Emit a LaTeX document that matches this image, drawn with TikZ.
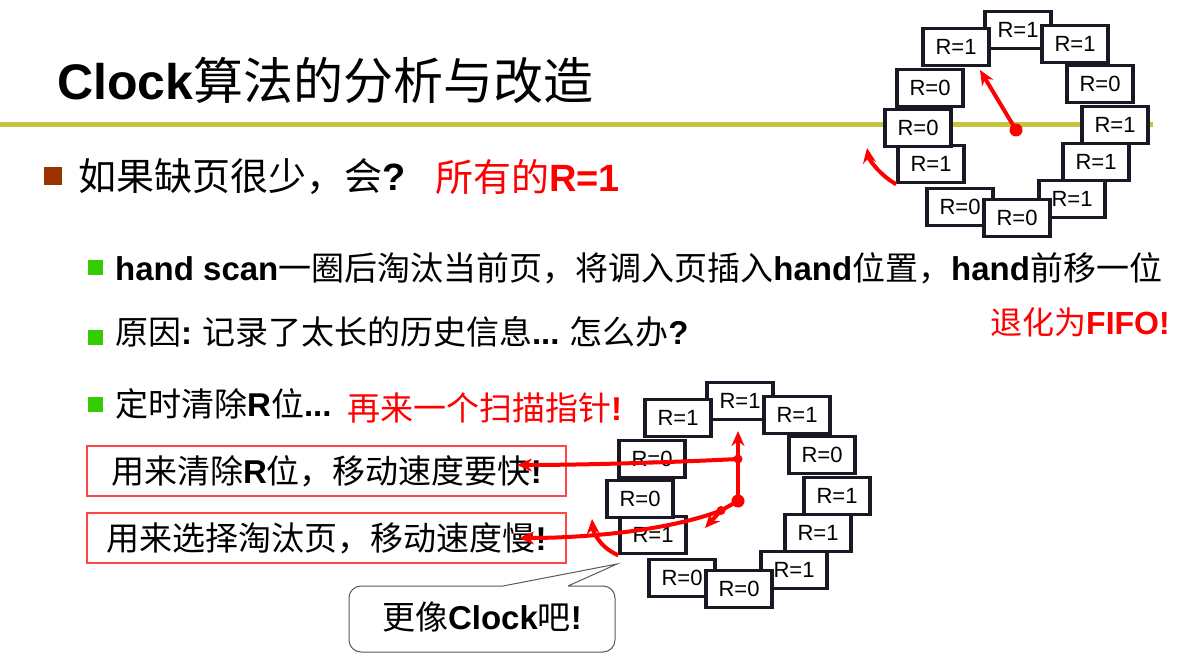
\documentclass[tikz,border=0pt]{standalone}
\usepackage{fontspec}
\setmainfont{Noto Sans CJK SC}
\newfontfamily\latinfont{Liberation Sans}
\usetikzlibrary{arrows.meta}
\definecolor{SlideRule}{HTML}{C4C43F}
\definecolor{BulletBrown}{HTML}{993300}
\definecolor{BulletGreen}{HTML}{33CC00}
\definecolor{HandRed}{HTML}{FF0000}
\definecolor{NoteRed}{HTML}{FF4545}
\definecolor{FaceInk}{HTML}{1A1824}
\definecolor{CalloutGrey}{HTML}{5A5A5A}
\newcommand\latb[1]{{\latinfont\bfseries #1}}
\newcommand\px[1]{\fontsize{#1}{#1}\selectfont}
% offsets of the twelve pages round the hub, and their R bits
\newcommand\clockfaces{2/-100/1, -60/-83/1, 59/-86/1, -86/-42/0, 84/-46/0, -85/34/1, -98/-2/0, 99/-5/1, 80/32/1, -56/77/0, 56/69/1, 1/88/0}
\tikzset{
  every node/.style={text=black},
  face/.style={draw=FaceInk, line width=3.5pt, fill=white, minimum width=66pt, minimum height=37pt, inner sep=0pt, font=\latinfont\px{22}},
  hand/.style={draw=HandRed, line width=4pt, -{Stealth[length=15pt,width=13pt]}},
  pivot/.style={fill=HandRed},
  bullet/.style={fill=BulletGreen, minimum size=15pt, inner sep=0pt},
  item/.style={anchor=west, inner sep=0pt, font=\px{33}},
  redbox/.style={draw=NoteRed, line width=1.2pt, minimum width=479pt, minimum height=50pt, inner sep=0pt, font=\px{33}},
  note/.style={draw=CalloutGrey, line width=1pt, fill=white},
}

\begin{document}
\begin{tikzpicture}[x=1pt,y=-1pt]
  \useasboundingbox (0,0) rectangle (1192,668);
  \fill[white] (0,0) rectangle (1192,668);
  % Title and rule
  \draw[SlideRule, line width=5pt] (0,124.5) -- (1153,124.5);
  \node[anchor=west, inner sep=0pt, font=\px{50}] (title) at (57,80) {\latb{Clock}算法的分析与改造};

  % First clock: one hand
  \begin{scope}[shift={(1016,130)}]
    \foreach \dx/\dy/\r [count=\i] in \clockfaces
      \node[face] (up\i) at (\dx,\dy) {R=\r};
    \coordinate (uphub) at (0,0);
    \coordinate (uptip) at (-36,-60);
    \coordinate (upturn) at (-149,18);
    \draw[hand] (uphub) -- (uptip);
    \fill[pivot] (uphub) circle (6.5pt);
    \draw[hand] (up6.south west) .. controls (-135,46) and (-147,30) .. (upturn);
  \end{scope}

  % Bullets
  \node[bullet, fill=BulletBrown, minimum size=18pt] (fewmark) at (52.5,176) {};
  \node[item, font=\px{38}] (fewline) at (78,177) {如果缺页很少，会\latb{?}};
  \node[item, font=\px{38}, text=HandRed] (allone) at (435,177) {所有的\latb{R=1}};
  \node[bullet] (scanmark) at (95,268) {};
  \node[item] (scanline) at (115,268) {\latb{hand scan}一圈后淘汰当前页，将调入页插入\latb{hand}位置，\latb{hand}前移一位};
  \node[item, font=\px{32}, text=HandRed] (fifo) at (990,322) {退化为\latb{FIFO!}};
  \node[bullet] (causemark) at (95,338) {};
  \node[item] (causeline) at (115,332) {原因\latb{:} 记录了太长的历史信息\latb{...} 怎么办\latb{?}};
  \node[bullet] (clearmark) at (95,404) {};
  \node[item] (clearline) at (115,404) {定时清除\latb{R}位\latb{...}};
  \node[item, text=HandRed] (twohand) at (347,408) {再来一个扫描指针\latb{!}};

  % Second clock: two hands
  \begin{scope}[shift={(738,501)}]
    \foreach \dx/\dy/\r [count=\i] in \clockfaces
      \node[face] (lo\i) at (\dx,\dy) {R=\r};
    \coordinate (lohub) at (0,0);
    \coordinate (lofasttip) at (0,-70);
    \coordinate (loslowtip) at (-33,27);
    \coordinate (lofastjoint) at (0,-42);
    \coordinate (loslowjoint) at (-17,9.5);
    \coordinate (loturn) at (-146,18);
    \draw[hand] (lohub) -- (lofasttip);
    \draw[hand] (lohub) -- (loslowjoint) -- (loslowtip);
    \fill[pivot] (lohub) circle (6.5pt);
    \fill[pivot] (lofastjoint) circle (4.5pt);
    \fill[pivot] (loslowjoint) circle (4.5pt);
    \draw[hand] (lo6.south west) .. controls (-139,46) and (-145,30) .. (loturn);
  \end{scope}

  % What each hand does
  \node[redbox] (fastbox) at (326.5,471) {用来清除\latb{R}位，移动速度要快\latb{!}};
  \node[redbox] (slowbox) at (326.5,538) {用来选择淘汰页，移动速度慢\latb{!}};
  \coordinate (fastmark) at (517,465);
  \coordinate (slowmark) at (519,538);
  \draw[hand] (lofastjoint) .. controls (680,462) and (587,465) .. (fastmark);
  \draw[hand] (loslowjoint) .. controls (670,530) and (590,538) .. (slowmark);

  % Callout
  \draw[note] (568,586) -- (617,564) -- (503,586) [rounded corners=12pt] -- (349,586) -- (349,652) -- (615,652) -- (615,586) -- (568,586);
  \node[inner sep=0pt, font=\px{33}] (clocknote) at (482,617) {更像\latb{Clock}吧\latb{!}};
\end{tikzpicture}
\end{document}
